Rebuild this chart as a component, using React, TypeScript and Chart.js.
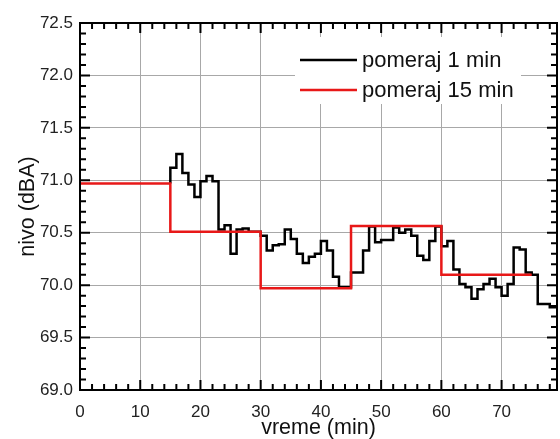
import React, { useEffect, useRef } from "react";
import { Chart, registerables } from "chart.js";

Chart.register(...registerables);

// 15-minute moving level (step starts)
const red15Times = [0, 15, 30, 45, 60, 75];
const red15Values = [70.97, 70.51, 69.97, 70.565, 70.1, 70.1];

// 1-minute moving level, one value per minute starting at minute 15
const black1Start = 15;
const black1Values = [
  71.12, 71.25, 71.07, 70.96, 70.84, 70.99, 71.04, 70.99, // 15-22
  70.53, 70.57, 70.3, 70.53, 70.54, 70.51, 70.51, // 23-29
  70.47, 70.33, 70.38, 70.39, 70.53, 70.44, 70.3, 70.21, 70.27, 70.3, // 30-39
  70.42, 70.33, 70.08, 69.98, 69.98, // 40-44
  70.12, 70.12, 70.33, 70.56, 70.41, 70.43, 70.43, 70.55, 70.5, 70.53, // 45-54
  70.47, 70.28, 70.24, 70.42, 70.56, // 55-59
  70.37, 70.42, 70.15, 70.01, 69.98, 69.87, 69.96, 70.01, 70.06, 69.98, // 60-69
  69.9, 70.01, 70.36, 70.34, 70.12, 70.1, 69.82, 69.82, 69.79, 69.79, // 70-79
];

const xMin = 0;
const xMax = 79.2;
const yMin = 69.0;
const yMax = 72.5;

const legendLabels = ["pomeraj 1 min", "pomeraj 15 min"];
const xTitle = "vreme (min)";
const yTitle = "nivo (dBA)";

const FONT = "'Liberation Sans', Arial, sans-serif";
const RED = "rgb(232,24,24)";

const decorPlugin = {
  id: "decor",
  afterDraw(chart: any) {
    const { ctx, chartArea } = chart;
    const { left, right, top, bottom } = chartArea;
    const xs = chart.scales.x;
    const ys = chart.scales.y;
    ctx.save();

    // legend box
    ctx.fillStyle = "#ffffff";
    ctx.fillRect(295, 37, 226, 67);
    ctx.lineWidth = 2.5;
    ctx.strokeStyle = "#000";
    ctx.beginPath();
    ctx.moveTo(300, 60);
    ctx.lineTo(357, 60);
    ctx.stroke();
    ctx.strokeStyle = RED;
    ctx.beginPath();
    ctx.moveTo(300, 90);
    ctx.lineTo(357, 90);
    ctx.stroke();
    ctx.fillStyle = "#111";
    ctx.font = `22px ${FONT}`;
    ctx.textAlign = "left";
    ctx.textBaseline = "middle";
    ctx.fillText(legendLabels[0], 362, 61);
    ctx.fillText(legendLabels[1], 362, 91);

    // ticks (inward on all four sides)
    ctx.strokeStyle = "#000";
    ctx.lineWidth = 2;
    ctx.beginPath();
    for (let i = 0; i * 2 <= xMax; i++) {
      const v = i * 2;
      const px = xs.getPixelForValue(v);
      const len = v % 10 === 0 ? 10 : 6;
      ctx.moveTo(px, bottom);
      ctx.lineTo(px, bottom - len);
      ctx.moveTo(px, top);
      ctx.lineTo(px, top + len);
    }
    for (let i = 0; i <= 35; i++) {
      const v = yMin + i * 0.1;
      const py = ys.getPixelForValue(v);
      const len = i % 5 === 0 ? 10 : 6;
      ctx.moveTo(left, py);
      ctx.lineTo(left + len, py);
      ctx.moveTo(right, py);
      ctx.lineTo(right - len, py);
    }
    ctx.stroke();

    // frame
    ctx.lineWidth = 2;
    ctx.strokeRect(left, top, right - left, bottom - top);

    // axis titles
    ctx.fillStyle = "#111";
    ctx.font = `21.5px ${FONT}`;
    ctx.textAlign = "center";
    ctx.textBaseline = "middle";
    ctx.fillText(xTitle, (left + right) / 2, 428);
    ctx.translate(28, (top + bottom) / 2);
    ctx.rotate(-Math.PI / 2);
    ctx.fillText(yTitle, 0, 0);
    ctx.restore();
  },
};

export default function App() {
  const ref = useRef<HTMLCanvasElement | null>(null);

  useEffect(() => {
    if (!ref.current) return;
    const redData = red15Times.map((t, i) => ({ x: t, y: red15Values[i] }));
    const blackData = [
      { x: black1Start, y: red15Values[0] },
      ...black1Values.map((v, i) => ({ x: black1Start + i, y: v })),
      { x: black1Start + black1Values.length, y: black1Values[black1Values.length - 1] },
    ];
    const chart = new Chart(ref.current, {
      type: "line",
      data: {
        datasets: [
          {
            label: legendLabels[1],
            data: redData,
            borderColor: RED,
            borderWidth: 2.5,
            pointRadius: 0,
            stepped: true,
            fill: false,
          },
          {
            label: legendLabels[0],
            data: blackData,
            borderColor: "#000",
            borderWidth: 2.5,
            pointRadius: 0,
            stepped: true,
            fill: false,
          },
        ],
      },
      options: {
        animation: false,
        responsive: true,
        maintainAspectRatio: false,
        layout: { padding: { top: 23, right: 3, left: 0, bottom: 0 } },
        plugins: {
          legend: { display: false },
          tooltip: { enabled: false },
        },
        scales: {
          x: {
            type: "linear",
            min: xMin,
            max: xMax,
            afterFit: (s: any) => {
              s.height = 49;
            },
            ticks: {
              stepSize: 10,
              includeBounds: false,
              padding: 12,
              color: "#222",
              font: { family: FONT, size: 17 },
              maxRotation: 0,
            },
            grid: { color: "#a8a8a8", lineWidth: 1, drawTicks: false },
            border: { display: false },
          },
          y: {
            type: "linear",
            min: yMin,
            max: yMax,
            afterFit: (s: any) => {
              s.width = 80;
            },
            ticks: {
              stepSize: 0.5,
              padding: 7,
              color: "#222",
              font: { family: FONT, size: 17 },
              callback: (v: any) => Number(v).toFixed(1),
            },
            grid: { color: "#a8a8a8", lineWidth: 1, drawTicks: false },
            border: { display: false },
          },
        },
      },
      plugins: [decorPlugin],
    });
    return () => chart.destroy();
  }, []);

  return (
    <div style={{ position: "fixed", left: 0, top: 0, width: 560, height: 439, background: "#fff" }}>
      <canvas ref={ref} />
    </div>
  );
}
